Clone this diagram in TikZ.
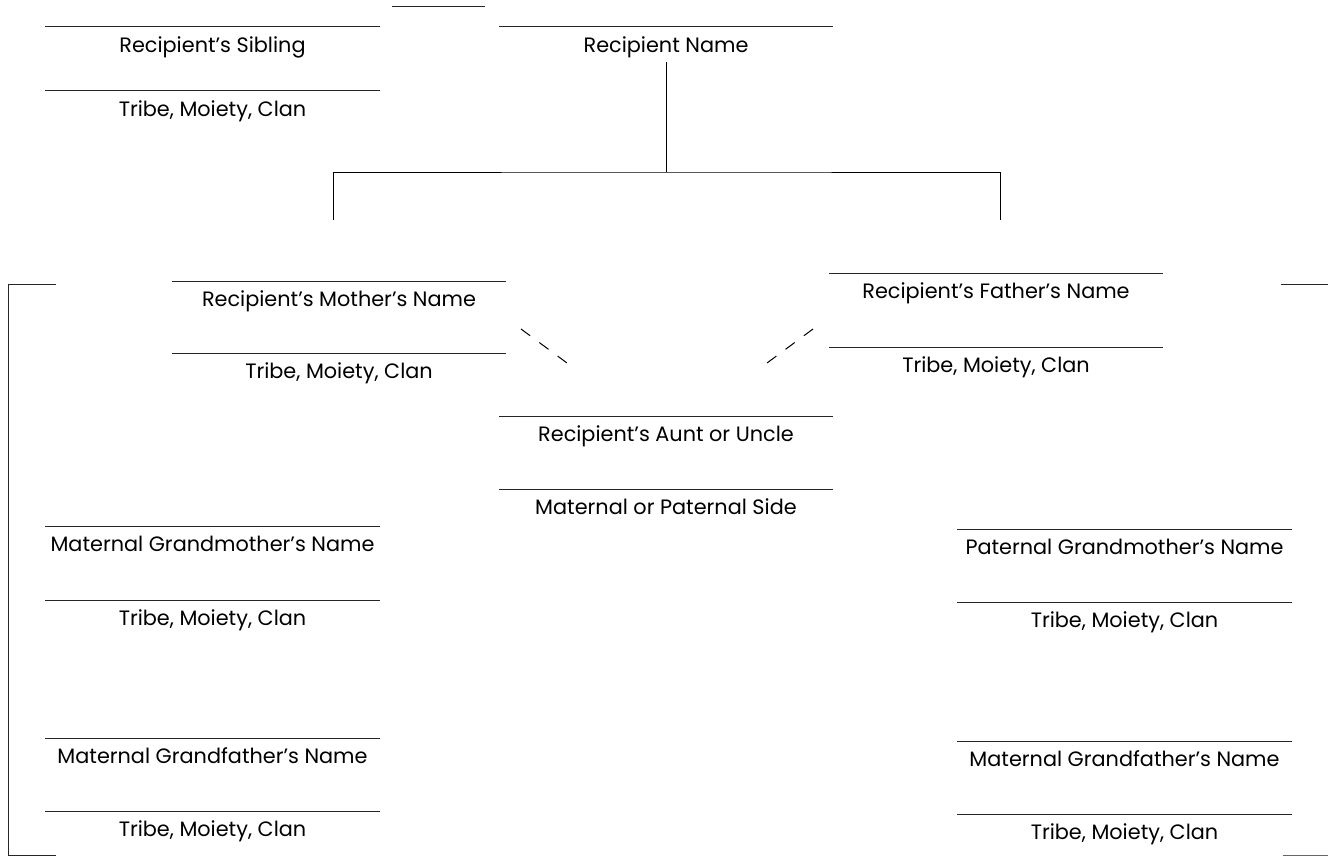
\documentclass[tikz,border=0pt]{standalone}
\usepackage{fontspec}
\setmainfont{Poppins}
\newcommand\formfield[5]{% name, x1, x2, y, text
  \draw[rule] (#2,#4) -- (#3,#4);
  \node[lab] (#1) at ({(#2+#3)/2},#4+25.5) {#5};}
\begin{document}
\begin{tikzpicture}[x=1pt,y=-1pt,
  rule/.style={line width=1pt,black!85},
  lab/.style={anchor=base,inner sep=0pt,font=\fontsize{20.8}{24}\selectfont},
  conn/.style={line width=1pt,black},
  dashlink/.style={line width=1pt,black,dash pattern=on 11.4pt off 11.4pt}]
\useasboundingbox (0,0) rectangle (1328,856);
% top short line
\draw[rule] (392,7) -- (485,7);
% sibling
\formfield{sib}{45}{380}{27}{Recipient’s Sibling}
\formfield{sibt}{45}{380}{91}{Tribe, Moiety, Clan}
% recipient
\formfield{rec}{499}{833}{27}{Recipient Name}
% mother
\formfield{mom}{172}{506}{281}{Recipient’s Mother’s Name}
\formfield{momt}{172}{506}{353}{Tribe, Moiety, Clan}
% father
\formfield{dad}{829}{1163}{273}{Recipient’s Father’s Name}
\formfield{dadt}{829}{1163}{347}{Tribe, Moiety, Clan}
% aunt/uncle
\formfield{aunt}{499}{833}{416}{Recipient’s Aunt or Uncle}
\formfield{auntt}{499}{833}{489}{Maternal or Paternal Side}
% maternal grandparents
\formfield{mgm}{45}{380}{526}{Maternal Grandmother’s Name}
\formfield{mgmt}{45}{380}{600}{Tribe, Moiety, Clan}
\formfield{mgf}{45}{380}{738}{Maternal Grandfather’s Name}
\formfield{mgft}{45}{380}{811}{Tribe, Moiety, Clan}
% paternal side
\formfield{pgm}{957}{1292}{529}{Paternal Grandmother’s Name}
\formfield{pgmt}{957}{1292}{602}{Tribe, Moiety, Clan}
\formfield{pgf}{957}{1292}{741}{Maternal Grandfather’s Name}
\formfield{pgft}{957}{1292}{814}{Tribe, Moiety, Clan}
% tree connectors
\coordinate (tj) at (666,172);
\coordinate (rj) at (666,62);
\coordinate (ml) at (333,220);
\coordinate (fr) at (1000,220);
\draw[conn] (rj) -- (tj);
\draw[conn] (ml) |- (tj) -| (fr);
% dashed links to aunt/uncle
\coordinate (d1a) at (521,329);
\coordinate (d1b) at (567,363);
\coordinate (d2a) at (813,329);
\coordinate (d2b) at (767,363);
\draw[dashlink] (d1a) -- (d1b);
\draw[dashlink] (d2a) -- (d2b);
% left bracket
\coordinate (bl1) at (56,284);
\coordinate (bl2) at (56,855);
\draw[rule] (bl1) -- (8,284) -- (8,855) -- (bl2);
% right short lines
\coordinate (br1) at (1281,284);
\coordinate (br2) at (1328,284);
\draw[rule] (br1) -- (br2);
\coordinate (br3) at (1283,855);
\coordinate (br4) at (1328,855);
\draw[rule,black!60] (br3) -- (br4);
\end{tikzpicture}
\end{document}
